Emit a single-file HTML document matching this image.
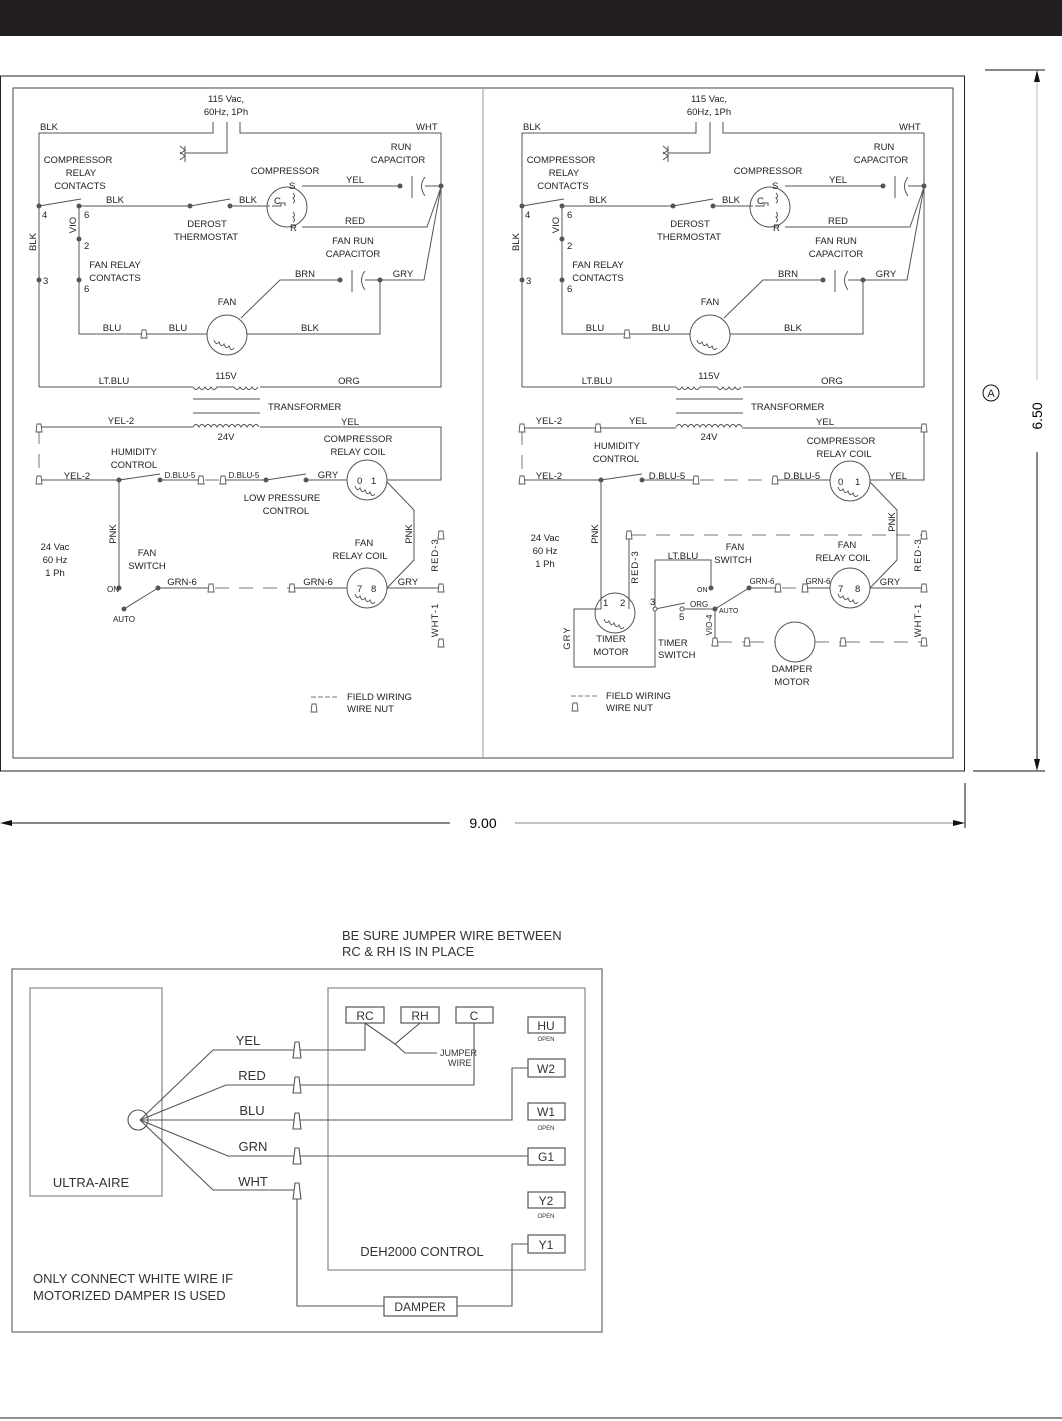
<!DOCTYPE html>
<html><head><meta charset="utf-8"><style>
html,body{margin:0;padding:0;background:#fff}
svg{display:block}
.t{font-family:"Liberation Sans",sans-serif;font-size:9.5px;fill:#222}
.b{font-family:"Liberation Sans",sans-serif;font-size:13px;fill:#333}
.w{stroke:#555;stroke-width:1;fill:none}
.d{stroke:#777;stroke-width:1;fill:none;stroke-dasharray:14 10}
.n{fill:#555}
</style></head><body>
<svg width="1062" height="1421" viewBox="0 0 1062 1421" xmlns="http://www.w3.org/2000/svg">
<defs>
<path id="nut" d="M-3,4 L-2,-4 L2,-4 L3,4 Z" fill="#fff" stroke="#555" stroke-width="0.9"/>
<g id="upper">
 <text class="t" x="226" y="102" text-anchor="middle">115 Vac,</text>
 <text class="t" x="226" y="115" text-anchor="middle">60Hz, 1Ph</text>
 <path class="w" d="M39,387 V133 H213 V122 M227,122 V153 H185 M180,146 L185,150 L180,154 M180,152 L185,156 L180,160 M185,146 V162 M240,122 V133 H441 V387 H260 M193,387 H39"/>
 <text class="t" x="40" y="130">BLK</text><text class="t" x="416" y="130">WHT</text>
 <text class="t" x="78" y="163" text-anchor="middle">COMPRESSOR</text>
 <text class="t" x="81" y="176" text-anchor="middle">RELAY</text>
 <text class="t" x="80" y="189" text-anchor="middle">CONTACTS</text>
 <path class="w" d="M39,206 L81,199 M79,206 H190 M190,206 L230,199 M230,206 H270 M302,186 H400 M412,176 V198 M425,177 Q418,186 425,196 M425,186 H441 M302,227 H427 L441,187 M79,206 V239 L79,280 V334 H207 M247,334 H380 V280 M241,318 L280,280 H340 M352,270 V292 M365,271 Q358,280 365,290 M365,280 H424 L441,187"/>
 <circle class="n" cx="39" cy="206" r="2.5"/><circle class="n" cx="79" cy="206" r="2.5"/>
 <circle class="n" cx="190" cy="206" r="2.5"/><circle class="n" cx="230" cy="206" r="2.5"/>
 <circle class="n" cx="400" cy="186" r="2.5"/><circle class="n" cx="441" cy="186" r="2.5"/>
 <circle class="n" cx="79" cy="239" r="2.5"/><circle class="n" cx="39" cy="280" r="2.5"/><circle class="n" cx="79" cy="280" r="2.5"/>
 <circle class="n" cx="340" cy="280" r="2.5"/><circle class="n" cx="380" cy="280" r="2.5"/>
 <text class="t" x="42" y="218">4</text><text class="t" x="84" y="218">6</text>
 <text class="t" x="84" y="249">2</text><text class="t" x="43" y="284">3</text><text class="t" x="84" y="292">6</text>
 <text class="t" x="76" y="225" transform="rotate(-90 76 225)" text-anchor="middle">VIO</text>
 <text class="t" x="36" y="242" transform="rotate(-90 36 242)" text-anchor="middle">BLK</text>
 <text class="t" x="115" y="203" text-anchor="middle">BLK</text>
 <text class="t" x="248" y="203" text-anchor="middle">BLK</text>
 <text class="t" x="207" y="227" text-anchor="middle">DEROST</text>
 <text class="t" x="206" y="240" text-anchor="middle">THERMOSTAT</text>
 <text class="t" x="285" y="174" text-anchor="middle">COMPRESSOR</text>
 <circle class="w" cx="287" cy="207" r="20"/>
 <text class="t" x="274" y="204">C</text><text class="t" x="289" y="189">S</text><text class="t" x="290" y="231">R</text>
 <path class="w" d="M272,206 H281 V203 H285 V206 M293,193 q3,3 0,5 q3,3 0,5 M293,212 q3,3 0,5 q3,3 0,5"/>
 <text class="t" x="355" y="183" text-anchor="middle">YEL</text>
 <text class="t" x="401" y="150" text-anchor="middle">RUN</text>
 <text class="t" x="398" y="163" text-anchor="middle">CAPACITOR</text>
 <text class="t" x="355" y="224" text-anchor="middle">RED</text>
 <text class="t" x="353" y="244" text-anchor="middle">FAN RUN</text>
 <text class="t" x="353" y="257" text-anchor="middle">CAPACITOR</text>
 <text class="t" x="305" y="277" text-anchor="middle">BRN</text>
 <text class="t" x="403" y="277" text-anchor="middle">GRY</text>
 <text class="t" x="115" y="268" text-anchor="middle">FAN RELAY</text>
 <text class="t" x="115" y="281" text-anchor="middle">CONTACTS</text>
 <text class="t" x="227" y="305" text-anchor="middle">FAN</text>
 <circle class="w" cx="227" cy="335" r="20"/>
 <path class="w" d="M214,340 q2,6 5,2 q2,6 5,2 q2,6 5,2 q2,6 5,2"/>
 <use href="#nut" x="144" y="334"/>
 <text class="t" x="112" y="331" text-anchor="middle">BLU</text>
 <text class="t" x="178" y="331" text-anchor="middle">BLU</text>
 <text class="t" x="310" y="331" text-anchor="middle">BLK</text>
 <text class="t" x="114" y="384" text-anchor="middle">LT.BLU</text>
 <text class="t" x="226" y="379" text-anchor="middle">115V</text>
 <text class="t" x="349" y="384" text-anchor="middle">ORG</text>
 <path class="w" d="M193,387 q3,5 6,0 q3,5 6,0 q3,5 6,0 q3,5 6,0 H234 q3,5 6,0 q3,5 6,0 q3,5 6,0 q3,5 6,0 M193,399 H260 M193,413 H260 M193,427 q3,-5 6,0 q3,-5 6,0 q3,-5 6,0 q3,-5 6,0 q3,-5 6,0 q3,-5 6,0 q3,-5 6,0 q3,-5 6,0 q3,-5 6,0 q3,-5 6,0 q3,-5 6,0"/>
 <text class="t" x="268" y="410">TRANSFORMER</text>
 <text class="t" x="226" y="440" text-anchor="middle">24V</text>
</g>
</defs>

<rect x="0" y="0" width="1062" height="36" fill="#231f20"/>
<rect x="0.5" y="76" width="964" height="695" fill="none" stroke="#222" stroke-width="1"/>
<rect x="13" y="88" width="940" height="670" fill="none" stroke="#444" stroke-width="1"/>
<line x1="483" y1="88" x2="483" y2="758" stroke="#999"/>

<use href="#upper"/>
<use href="#upper" x="483"/>

<!-- left lower -->
<g>
 <path class="w" d="M39,427 H193 M260,427 H441 V480 H387 M39,480 H119 L160,474 M160,480 H201 M223,480 H266 L306,474 M306,480 H347 M119,480 V588 M158,588 L124,609 M158,588 H211 M292,588 H347 M387,588 H441 M387,482 L414,510 V560 L387,588"/>
 <path class="d" d="M39,430 V478 M205,480 H222 M215,588 H290"/>
 <use href="#nut" x="39" y="428"/><use href="#nut" x="39" y="480"/>
 <use href="#nut" x="201" y="480"/><use href="#nut" x="223" y="480"/>
 <use href="#nut" x="211" y="588"/><use href="#nut" x="292" y="588"/>
 <use href="#nut" x="441" y="535"/><use href="#nut" x="441" y="588"/><use href="#nut" x="441" y="643"/>
 <circle class="n" cx="119" cy="480" r="2.5"/><circle class="n" cx="160" cy="480" r="2.5"/>
 <circle class="n" cx="266" cy="480" r="2.5"/><circle class="n" cx="306" cy="480" r="2.5"/>
 <circle class="n" cx="119" cy="588" r="2.5"/><circle class="n" cx="158" cy="588" r="2.5"/><circle class="n" cx="124" cy="609" r="2.5"/>
 <circle class="w" cx="367" cy="480" r="20"/><circle class="w" cx="367" cy="588" r="20"/>
 <path class="w" d="M355,486 q2,6 5,2 q2,6 5,2 q2,6 5,2 q2,6 5,2 M355,594 q2,6 5,2 q2,6 5,2 q2,6 5,2 q2,6 5,2"/>
 <text class="t" x="357" y="484">0</text><text class="t" x="371" y="484">1</text>
 <text class="t" x="357" y="592">7</text><text class="t" x="371" y="592">8</text>
 <text class="t" x="121" y="424" text-anchor="middle">YEL-2</text>
 <text class="t" x="350" y="425" text-anchor="middle">YEL</text>
 <text class="t" x="358" y="442" text-anchor="middle">COMPRESSOR</text>
 <text class="t" x="358" y="455" text-anchor="middle">RELAY COIL</text>
 <text class="t" x="134" y="455" text-anchor="middle">HUMIDITY</text>
 <text class="t" x="134" y="468" text-anchor="middle">CONTROL</text>
 <text class="t" x="77" y="479" text-anchor="middle">YEL-2</text>
 <text class="t" x="180" y="478" text-anchor="middle" style="font-size:8px">D.BLU-5</text>
 <text class="t" x="244" y="478" text-anchor="middle" style="font-size:8px">D.BLU-5</text>
 <text class="t" x="328" y="478" text-anchor="middle">GRY</text>
 <text class="t" x="282" y="501" text-anchor="middle">LOW PRESSURE</text>
 <text class="t" x="286" y="514" text-anchor="middle">CONTROL</text>
 <text class="t" x="116" y="534" transform="rotate(-90 116 534)" text-anchor="middle">PNK</text>
 <text class="t" x="412" y="534" transform="rotate(-90 412 534)" text-anchor="middle">PNK</text>
 <text class="t" x="55" y="550" text-anchor="middle">24 Vac</text>
 <text class="t" x="55" y="563" text-anchor="middle">60 Hz</text>
 <text class="t" x="55" y="576" text-anchor="middle">1 Ph</text>
 <text class="t" x="147" y="556" text-anchor="middle">FAN</text>
 <text class="t" x="147" y="569" text-anchor="middle">SWITCH</text>
 <text class="t" x="364" y="546" text-anchor="middle">FAN</text>
 <text class="t" x="360" y="559" text-anchor="middle">RELAY COIL</text>
 <text class="t" x="107" y="592" style="font-size:8px">ON</text>
 <text class="t" x="124" y="622" text-anchor="middle" style="font-size:8px">AUTO</text>
 <text class="t" x="182" y="585" text-anchor="middle">GRN-6</text>
 <text class="t" x="318" y="585" text-anchor="middle">GRN-6</text>
 <text class="t" x="408" y="585" text-anchor="middle">GRY</text>
 <text class="t" x="438" y="555" transform="rotate(-90 438 555)" text-anchor="middle" letter-spacing="1">RED-3</text>
 <text class="t" x="438" y="620" transform="rotate(-90 438 620)" text-anchor="middle" letter-spacing="1">WHT-1</text>
 <path class="d" d="M311,697 H338" style="stroke-dasharray:5 2"/>
 <use href="#nut" x="314" y="708"/>
 <text class="t" x="347" y="700">FIELD WIRING</text>
 <text class="t" x="347" y="712">WIRE NUT</text>
</g>

<!-- right lower -->
<g>
 <path class="w" d="M522,428 H676 M742,428 H924 V480 H870 M522,480 H601 L642,474 M642,480 H696 M775,480 H830 M601,480 V609 M629,609 V535 M601,609 H574 V667 H655 V609 L685,603 M655,609 V560 H711 V588 M682,609 H715 L749,588 M749,588 H778 M805,588 H830 M870,588 H924 M715,609 V641 M870,482 L897,510 V560 L870,588"/>
 <path class="d" d="M522,431 V478 M700,480 H772 M632,535 H921 M782,588 H802 M718,642 H744 M750,642 H775 M815,642 H840 M846,642 H921"/>
 <use href="#nut" x="522" y="428"/><use href="#nut" x="598" y="428"/><use href="#nut" x="924" y="428"/>
 <use href="#nut" x="522" y="480"/><use href="#nut" x="696" y="480"/><use href="#nut" x="775" y="480"/>
 <use href="#nut" x="629" y="535"/><use href="#nut" x="924" y="535"/>
 <use href="#nut" x="778" y="588"/><use href="#nut" x="805" y="588"/><use href="#nut" x="924" y="588"/>
 <use href="#nut" x="715" y="642"/><use href="#nut" x="747" y="642"/><use href="#nut" x="843" y="642"/><use href="#nut" x="924" y="642"/>
 <circle class="n" cx="601" cy="480" r="2.5"/><circle class="n" cx="642" cy="480" r="2.5"/>
 <circle class="n" cx="711" cy="588" r="2.5"/><circle class="n" cx="749" cy="588" r="2.5"/><circle class="n" cx="715" cy="609" r="2.5"/>
 <circle cx="655" cy="609" r="2" fill="#fff" stroke="#555"/><circle cx="682" cy="609" r="2" fill="#fff" stroke="#555"/>
 <circle class="w" cx="850" cy="481" r="20"/><circle class="w" cx="850" cy="588" r="20"/>
 <circle class="w" cx="615" cy="613" r="20"/><circle class="w" cx="795" cy="642" r="20" style="fill:#fff"/>
 <path class="w" d="M838,487 q2,6 5,2 q2,6 5,2 q2,6 5,2 q2,6 5,2 M838,594 q2,6 5,2 q2,6 5,2 q2,6 5,2 q2,6 5,2 M604,619 q2,6 5,2 q2,6 5,2 q2,6 5,2 q2,6 5,2"/>
 <text class="t" x="838" y="485">0</text><text class="t" x="855" y="485">1</text>
 <text class="t" x="838" y="592">7</text><text class="t" x="855" y="592">8</text>
 <text class="t" x="603" y="606">1</text><text class="t" x="620" y="606">2</text>
 <text class="t" x="549" y="424" text-anchor="middle">YEL-2</text>
 <text class="t" x="638" y="424" text-anchor="middle">YEL</text>
 <text class="t" x="825" y="425" text-anchor="middle">YEL</text>
 <text class="t" x="841" y="444" text-anchor="middle">COMPRESSOR</text>
 <text class="t" x="844" y="457" text-anchor="middle">RELAY COIL</text>
 <text class="t" x="617" y="449" text-anchor="middle">HUMIDITY</text>
 <text class="t" x="616" y="462" text-anchor="middle">CONTROL</text>
 <text class="t" x="549" y="479" text-anchor="middle">YEL-2</text>
 <text class="t" x="667" y="479" text-anchor="middle">D.BLU-5</text>
 <text class="t" x="802" y="479" text-anchor="middle">D.BLU-5</text>
 <text class="t" x="898" y="479" text-anchor="middle">YEL</text>
 <text class="t" x="598" y="534" transform="rotate(-90 598 534)" text-anchor="middle">PNK</text>
 <text class="t" x="895" y="522" transform="rotate(-90 895 522)" text-anchor="middle">PNK</text>
 <text class="t" x="638" y="567" transform="rotate(-90 638 567)" text-anchor="middle" letter-spacing="1">RED-3</text>
 <text class="t" x="545" y="541" text-anchor="middle">24 Vac</text>
 <text class="t" x="545" y="554" text-anchor="middle">60 Hz</text>
 <text class="t" x="545" y="567" text-anchor="middle">1 Ph</text>
 <text class="t" x="683" y="559" text-anchor="middle">LT.BLU</text>
 <text class="t" x="735" y="550" text-anchor="middle">FAN</text>
 <text class="t" x="733" y="563" text-anchor="middle">SWITCH</text>
 <text class="t" x="847" y="548" text-anchor="middle">FAN</text>
 <text class="t" x="843" y="561" text-anchor="middle">RELAY COIL</text>
 <text class="t" x="697" y="592" style="font-size:7px">ON</text>
 <text class="t" x="762" y="584" text-anchor="middle" style="font-size:8px">GRN-6</text>
 <text class="t" x="818" y="584" text-anchor="middle" style="font-size:8px">GRN-6</text>
 <text class="t" x="890" y="585" text-anchor="middle">GRY</text>
 <text class="t" x="650" y="605">3</text><text class="t" x="679" y="620">5</text>
 <text class="t" x="690" y="607" style="font-size:8px">ORG</text>
 <text class="t" x="719" y="613" style="font-size:7px">AUTO</text>
 <text class="t" x="712" y="625" transform="rotate(-90 712 625)" text-anchor="middle" style="font-size:8px">VIO-4</text>
 <text class="t" x="570" y="638" transform="rotate(-90 570 638)" text-anchor="middle" letter-spacing="1">GRY</text>
 <text class="t" x="611" y="642" text-anchor="middle">TIMER</text>
 <text class="t" x="611" y="655" text-anchor="middle">MOTOR</text>
 <text class="t" x="658" y="646">TIMER</text>
 <text class="t" x="658" y="658">SWITCH</text>
 <text class="t" x="792" y="672" text-anchor="middle">DAMPER</text>
 <text class="t" x="792" y="685" text-anchor="middle">MOTOR</text>
 <text class="t" x="921" y="555" transform="rotate(-90 921 555)" text-anchor="middle" letter-spacing="1">RED-3</text>
 <text class="t" x="921" y="620" transform="rotate(-90 921 620)" text-anchor="middle" letter-spacing="1">WHT-1</text>
 <path class="d" d="M571,696 H598" style="stroke-dasharray:5 2"/>
 <use href="#nut" x="575" y="707"/>
 <text class="t" x="606" y="699">FIELD WIRING</text>
 <text class="t" x="606" y="711">WIRE NUT</text>
</g>

<!-- dimensions -->
<g stroke="#111" fill="none">
 <line x1="985" y1="70" x2="1045" y2="70"/><line x1="973" y1="771" x2="1045" y2="771"/>
 <line x1="1037" y1="80" x2="1037" y2="380" stroke="#bbb"/>
 <line x1="1037" y1="452" x2="1037" y2="762"/>
 <line x1="965" y1="783" x2="965" y2="828"/>
 <line x1="8" y1="823" x2="450" y2="823"/>
 <line x1="515" y1="823" x2="957" y2="823" stroke="#888"/>
 <circle cx="991" cy="393" r="8"/>
</g>
<path d="M1037,70 l-3,12 h6 Z M1037,771 l-3,-12 h6 Z M0,823 l12,-3 v6 Z M965,823 l-12,-3 v6 Z" fill="#111"/>
<text class="t" x="991" y="397" text-anchor="middle" style="font-size:11px">A</text>
<text x="1042" y="416" transform="rotate(-90 1042 416)" text-anchor="middle" style="font-family:'Liberation Sans',sans-serif;font-size:14px">6.50</text>
<text x="483" y="828" text-anchor="middle" style="font-family:'Liberation Sans',sans-serif;font-size:14px">9.00</text>

<!-- bottom diagram -->
<g>
 <text class="b" x="342" y="940">BE SURE JUMPER WIRE BETWEEN</text>
 <text class="b" x="342" y="956">RC &amp; RH IS IN PLACE</text>
 <rect x="12" y="969" width="590" height="363" fill="none" stroke="#888" stroke-width="1.5"/>
 <rect x="30" y="988" width="132" height="208" fill="none" stroke="#888" stroke-width="1.2"/>
 <rect x="328" y="988" width="257" height="282" fill="none" stroke="#888" stroke-width="1.2"/>
 <text class="b" x="91" y="1187" text-anchor="middle">ULTRA-AIRE</text>
 <text class="b" x="422" y="1256" text-anchor="middle">DEH2000 CONTROL</text>
 <text class="b" x="33" y="1283">ONLY CONNECT WHITE WIRE IF</text>
 <text class="b" x="33" y="1300">MOTORIZED DAMPER IS USED</text>
 <g fill="#fff" stroke="#555" stroke-width="1.2">
  <rect x="346" y="1007" width="38" height="16"/><rect x="401" y="1007" width="38" height="16"/><rect x="456" y="1007" width="37" height="16"/>
  <rect x="528" y="1017" width="37" height="16"/><rect x="528" y="1059" width="37" height="18"/>
  <rect x="528" y="1103" width="37" height="17"/><rect x="528" y="1148" width="37" height="17"/>
  <rect x="528" y="1192" width="37" height="16"/><rect x="528" y="1235" width="37" height="18"/>
  <rect x="384" y="1297" width="73" height="19"/>
 </g>
 <g class="b" text-anchor="middle" style="font-size:12px">
  <text x="365" y="1020">RC</text><text x="420" y="1020">RH</text><text x="474" y="1020">C</text>
  <text x="546" y="1030">HU</text><text x="546" y="1073">W2</text><text x="546" y="1116">W1</text>
  <text x="546" y="1161">G1</text><text x="546" y="1205">Y2</text><text x="546" y="1249">Y1</text>
  <text x="420" y="1311">DAMPER</text>
 </g>
 <g class="b" text-anchor="middle" style="font-size:6px">
  <text x="546" y="1041">OPEN</text><text x="546" y="1130">OPEN</text><text x="546" y="1218">OPEN</text>
 </g>
 <text class="b" x="440" y="1056" style="font-size:9px">JUMPER</text>
 <text class="b" x="448" y="1066" style="font-size:9px">WIRE</text>
 <g stroke="#555" fill="none" stroke-width="1.1">
  <circle cx="138" cy="1120" r="10"/>
  <path d="M140,1120 L213,1050 H365 V1023 M140,1120 L226,1085 H474 V1023 M140,1120 H512 V1068 H528 M140,1120 L228,1156 H528 M140,1120 L213,1190 H297 V1306 H384 M457,1306 H512 V1244 H528 M365,1023 L395,1044 L420,1023 M395,1044 L405,1053 H437"/>
 </g>
 <g fill="#fff" stroke="#555" stroke-width="1.1">
  <path d="M293,1058 L295,1042 L299,1042 L301,1058 Z"/><path d="M293,1093 L295,1077 L299,1077 L301,1093 Z"/>
  <path d="M293,1129 L295,1113 L299,1113 L301,1129 Z"/><path d="M293,1164 L295,1148 L299,1148 L301,1164 Z"/>
  <path d="M293,1199 L295,1183 L299,1183 L301,1199 Z"/>
 </g>
 <g class="b" text-anchor="middle">
  <text x="248" y="1045">YEL</text><text x="252" y="1080">RED</text><text x="252" y="1115">BLU</text>
  <text x="253" y="1151">GRN</text><text x="253" y="1186">WHT</text>
 </g>
</g>
<line x1="0" y1="1418" x2="1062" y2="1418" stroke="#222"/>
</svg>
</body></html>
